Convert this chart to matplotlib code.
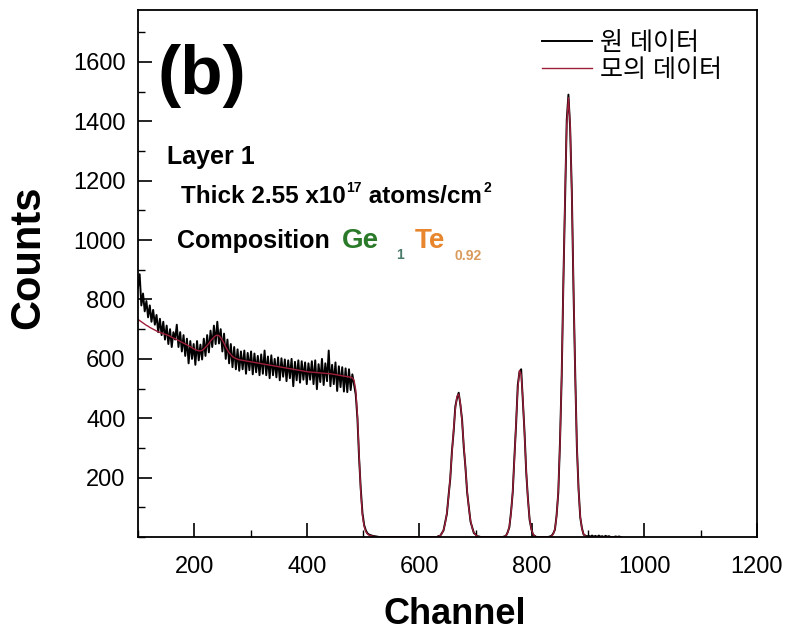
import numpy as np
import matplotlib
matplotlib.use("Agg")
import matplotlib.pyplot as plt
from matplotlib.ticker import MultipleLocator, FixedLocator

plt.rcParams['font.family'] = ['Liberation Sans', 'Noto Sans CJK KR', 'DejaVu Sans']

# channel grid (step 3) and the segments of counts
ch_start, ch_stop, ch_step = 100, 958, 3

# background + edge, starting at channel 100
raw_bg = [840, 885, 780, 820, 760, 795, 740, 780, 725, 765,
          715, 748, 690, 735, 680, 725, 665, 712, 650, 700,
          640, 690, 665, 715, 640, 690, 625, 680, 610, 668,
          585, 660, 600, 650, 580, 660, 595, 648, 598, 668,
          610, 680, 622, 695, 640, 712, 650, 725, 652, 700,
          625, 685, 600, 665, 585, 650, 572, 640, 565, 632,
          560, 625, 565, 628, 550, 620, 562, 625, 548, 618,
          555, 610, 545, 615, 550, 628, 545, 608, 535, 612,
          545, 600, 538, 605, 528, 602, 540, 598, 525, 595,
          535, 600, 508, 590, 528, 595, 520, 592, 530, 588,
          515, 585, 530, 592, 515, 595, 498, 582, 522, 600,
          512, 585, 525, 628, 508, 580, 515, 588, 492, 575,
          505, 572, 490, 568, 488, 565, 495, 548, 515, 480,
          400, 265, 160, 80, 40, 22, 12, 8, 6, 4,
          3, 2, 1]
fit_bg = [733, 729, 725, 721, 717, 713, 710, 706, 703, 700,
          697, 694, 691, 689, 687, 685, 683, 681, 679, 676,
          673, 670, 668, 665, 662, 659, 656, 653, 650, 647,
          644, 641, 638, 634, 631, 629, 627, 627, 629, 633,
          639, 645, 652, 660, 667, 673, 678, 680, 678, 672,
          663, 652, 640, 630, 621, 614, 608, 604, 601, 599,
          597, 596, 595, 594, 593, 592, 591, 590, 589, 588,
          587, 586, 585, 584, 583, 582, 581, 580, 579, 578,
          577, 576, 575, 574, 573, 572, 571, 570, 569, 568,
          567, 566, 565, 564, 563, 562, 561, 560, 559, 558,
          557, 556, 556, 555, 555, 554, 554, 553, 553, 552,
          552, 551, 551, 550, 550, 549, 548, 547, 546, 545,
          544, 543, 542, 541, 540, 539, 538, 536, 528, 495,
          410, 275, 150, 72, 36, 18, 10, 6, 4, 3,
          2, 1, 0]

# peak 1, starting at channel 631
raw_p1 = [0, 3, 4, 13, 22, 50, 78, 140, 196, 290, 355, 440, 468, 486,
          445, 395, 302, 235, 150, 100, 52, 33, 13, 9, 2, 2]
fit_p1 = [1, 2, 5, 11, 24, 46, 82, 134, 202, 282, 363, 432, 474, 481,
          450, 388, 310, 228, 155, 97, 56, 30, 15, 7, 3, 1]

# peak 2, starting at channel 751
raw_p2 = [2, 4, 16, 33, 84, 150, 270, 380, 512, 556, 565, 455, 352, 218,
          130, 58, 28, 8, 4, 0]
fit_p2 = [1, 5, 14, 35, 79, 155, 262, 388, 500, 561, 548, 466, 346, 223,
          126, 62, 26, 10, 3, 1]

# peak 3, starting at channel 832
raw_p3 = [2, 4, 12, 25, 74, 150, 320, 538, 860, 1140, 1405, 1490, 1380,
          1165, 832, 555, 305, 162, 66, 30, 8, 5, 2]
fit_p3 = [1, 3, 10, 27, 70, 157, 312, 546, 845, 1154, 1391, 1480, 1391,
          1154, 845, 546, 312, 157, 70, 27, 10, 3, 1]

# small counts after the last peak, starting at channel 901
raw_tail = [4, 1, 5, 1, 4, 0, 5, 1, 3, 0, 4, 1, 3, 0, 0, 0, 2, 0, 2, 0]

raw_segments = [(100, raw_bg), (631, raw_p1), (751, raw_p2), (832, raw_p3), (901, raw_tail)]
fit_segments = [(100, fit_bg), (631, fit_p1), (751, fit_p2), (832, fit_p3)]

legend_labels = ['원 데이터', '모의 데이터']
x_ticks = [200, 400, 600, 800, 1000, 1200]
y_ticks = [200, 400, 600, 800, 1000, 1200, 1400, 1600]

channel = np.arange(ch_start, ch_stop + 1, ch_step)


def build(segments):
    counts = np.zeros(len(channel))
    for start, vals in segments:
        i = (start - ch_start) // ch_step
        counts[i:i + len(vals)] = vals
    return counts


raw = build(raw_segments)
fit = build(fit_segments)

fig = plt.figure(figsize=(7.87, 6.41), dpi=100)
ax = fig.add_axes([0.1753, 0.1622, 0.7865, 0.8222])

ax.plot(channel, raw, color='black', lw=1.4, label=legend_labels[0])
ax.plot(channel, fit, color='#9e1f3a', lw=1.0, label=legend_labels[1])

ax.set_xlim(100, 1200)
ax.set_ylim(0, 1775)
ax.xaxis.set_major_locator(FixedLocator(x_ticks))
ax.xaxis.set_minor_locator(MultipleLocator(100))
ax.yaxis.set_major_locator(FixedLocator(y_ticks))
ax.yaxis.set_minor_locator(MultipleLocator(100))
ax.tick_params(which='both', direction='in', top=False, right=False, labelsize=17)
ax.tick_params(axis='y', pad=9)
ax.tick_params(axis='x', pad=14)
ax.tick_params(which='major', length=10, width=1.2)
ax.tick_params(which='minor', length=5, width=1.0)
for sp in ax.spines.values():
    sp.set_linewidth(1.3)

ax.set_xlabel('Channel', fontsize=26, fontweight='bold')
ax.set_ylabel('Counts', fontsize=30, fontweight='bold')
ax.xaxis.set_label_coords(0.512, -0.114)
ax.yaxis.set_label_coords(-0.145, 0.53)

leg = ax.legend(loc='upper right', bbox_to_anchor=(0.943, 0.96), frameon=False,
                fontsize=18, handlelength=2.0, handletextpad=0.3, labelspacing=0.1,
                borderpad=0, borderaxespad=0)

ax.text(0.031, 0.84, '(b)', transform=ax.transAxes, fontsize=50, fontweight='bold',
        va='baseline')
ax.text(0.047, 0.708, 'Layer 1', transform=ax.transAxes, fontsize=18, fontweight='bold',
        va='baseline')

fig.canvas.draw()
renderer = fig.canvas.get_renderer()


def put_pieces(xa, ya, pieces):
    # pieces: (text, size, color, gap before in px, vertical shift in px)
    x, y = ax.transAxes.transform((xa, ya))
    for s, size, color, dx, dy in pieces:
        x += dx
        t = fig.text(x, y + dy, s, transform=None, fontsize=size, color=color,
                     fontweight='bold', va='baseline')
        x += t.get_window_extent(renderer).width


put_pieces(0.069, 0.634, [('Thick 2.55 x10', 17.5, 'black', 0, 0),
                          ('17', 10, 'black', 1, 11),
                          (' atoms/cm', 17.5, 'black', 0, 0),
                          ('2', 10, 'black', 2, 11)])
put_pieces(0.0625, 0.548, [('Composition', 18, 'black', 0, 0),
                           ('Ge', 20, '#2a7a2a', 12, 0),
                           ('1', 10, '#4a7a6a', 18, -11),
                           ('Te', 20, '#e8862e', 10, 0),
                           ('0.92', 10, '#d99a5a', 10, -12)])

fig.savefig('out.png', dpi=100)
